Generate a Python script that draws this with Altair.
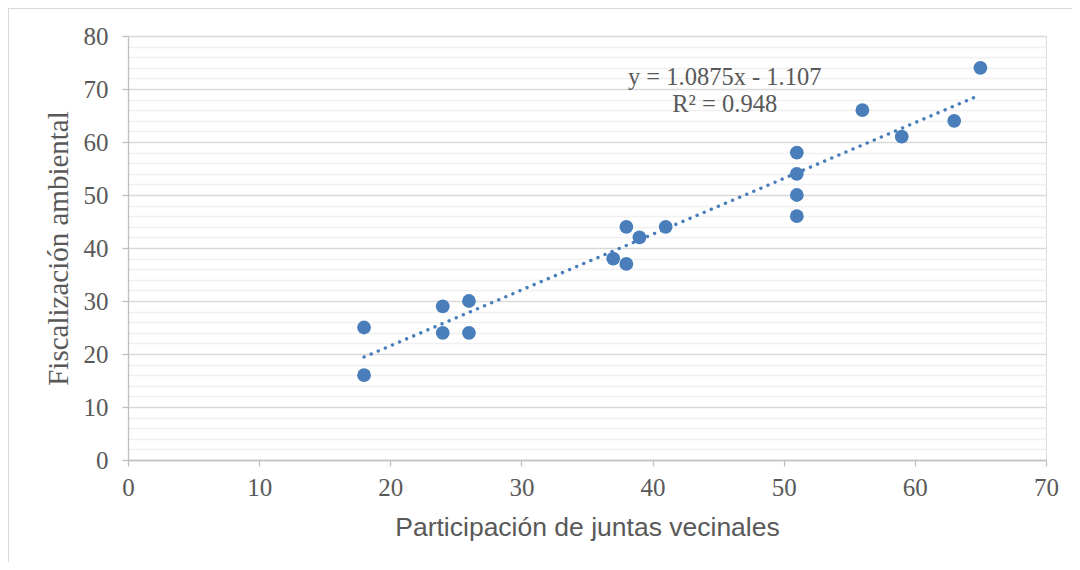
import altair as alt
import pandas as pd

participacion = [18, 18, 24, 24, 26, 26, 37, 38, 38, 39, 41, 51, 51, 51, 51, 56, 59, 63, 65]
fiscalizacion = [25, 16, 29, 24, 30, 24, 38, 44, 37, 42, 44, 58, 54, 50, 46, 66, 61, 64, 74]
ecuacion = ["y = 1.0875x - 1.107", "R² = 0.948"]
ecuacion_x = [45.5, 45.5]
ecuacion_y = [72.0, 67.0]

df = pd.DataFrame({"x": participacion, "y": fiscalizacion})
df_eq = pd.DataFrame({"t": ecuacion, "x": ecuacion_x, "y": ecuacion_y})

BLUE = "#4a7ebb"
LBL = "#595959"
SERIF = "Liberation Serif"

xscale = alt.Scale(domain=[0, 70], nice=False, zero=True)
yscale = alt.Scale(domain=[0, 80], nice=False, zero=True)

xaxis = alt.Axis(
    values=list(range(0, 71, 10)), tickCount=8, grid=False, domainColor="#bfbfbf", domainWidth=1.3,
    tickColor="#bfbfbf", tickSize=6, tickWidth=1.3, labelFont=SERIF, labelFontSize=25,
    labelColor=LBL, labelPadding=9, labelOverlap=False, labelFlush=False,
    title="Participación de juntas vecinales",
    titleFont="Liberation Sans", titleFontSize=26.5, titleFontWeight="normal",
    titleColor=LBL, titleBaseline="alphabetic", titleY=75,
)
yaxis = alt.Axis(
    values=list(range(0, 81, 2)), tickCount=41,
    gridColor=alt.condition("datum.value % 10 == 0", alt.value("#d9d9d9"), alt.value("#f0f0f0")),
    gridWidth=alt.condition("datum.value % 10 == 0", alt.value(1.5), alt.value(1.3)),
    tickColor=alt.condition("datum.value % 10 == 0", alt.value("#bfbfbf"), alt.value("transparent")),
    labelExpr="datum.value % 10 == 0 ? datum.label : ''",
    labelOverlap=False, labelFlush=False,
    domainColor="#bfbfbf", domainWidth=1.3, tickSize=6, tickWidth=1.3,
    labelFont=SERIF, labelFontSize=25, labelColor=LBL, labelPadding=14,
    title="Fiscalización ambiental", titleFont=SERIF, titleFontSize=29,
    titleFontWeight="normal", titleColor=LBL, titleBaseline="alphabetic", titleX=-61,
)

base = alt.Chart(df)

points = base.mark_circle(size=190, color=BLUE, opacity=1).encode(
    x=alt.X("x:Q", scale=xscale, axis=xaxis),
    y=alt.Y("y:Q", scale=yscale, axis=yaxis),
)

trend = base.transform_regression("x", "y").mark_line(
    color=BLUE, strokeWidth=3.4, strokeDash=[0.1, 7.6], strokeCap="round"
).encode(x="x:Q", y="y:Q")

eq = alt.Chart(df_eq).mark_text(font=SERIF, fontSize=24.5, color=LBL, align="center", baseline="middle").encode(
    x="x:Q", y="y:Q", text="t:N"
)

border_left = alt.Chart(df).mark_rule(color="#d9d9d9", strokeWidth=1.3).encode(
    x=alt.value(-120), y=alt.value(-28), y2=alt.value(700)
)
border_top = alt.Chart(df).mark_rule(color="#d9d9d9", strokeWidth=1.3).encode(
    x=alt.value(-120), x2=alt.value(1200), y=alt.value(-28)
)

chart = alt.layer(trend, points, eq, border_left, border_top).properties(
    width=918, height=424,
    autosize=alt.AutoSizeParams(type="none"),
    padding={"left": 120, "top": 28, "right": 26, "bottom": 102},
).configure_view(stroke=None).configure(background="white")

chart.save("out.html", embed_options={"renderer": "svg", "actions": False})
